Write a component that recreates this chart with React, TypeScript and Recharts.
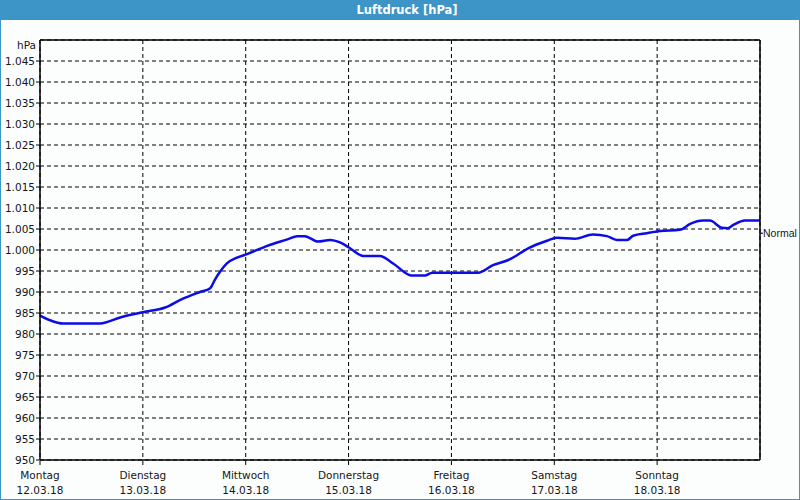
import React from 'react'
import { LineChart, Line, XAxis, YAxis, CartesianGrid, ReferenceLine } from 'recharts'

// hours since Monday 00:00
const hours = [
  0, 2.3, 5.4, 14, 18.9, 24, 29.2, 33.1, 37.3, 39.7, 40.8, 42, 43.6, 46, 48.3, 53, 57.9, 60, 61.8,
  64.9, 67.7, 70, 72.1, 75.4, 79.3, 82.4, 86.3, 87, 89.8, 91.5, 102.2, 105.7, 109.7, 113.9, 118.3,
  120.6, 124.8, 129, 132.3, 134.6, 137, 138.4, 141.6, 144.7, 149.3, 151.7, 154.7, 156.3, 159.1,
  160.5, 161.7, 164.5, 167.3, 168,
]
const pressure = [
  984.4, 983.3, 982.5, 982.5, 984.0, 985.2, 986.3, 988.3, 990.0, 990.9, 992.9, 994.8, 996.8, 998.2,
  999.0, 1001.0, 1002.6, 1003.3, 1003.3, 1002.0, 1002.4, 1001.8, 1000.6, 998.6, 998.6, 996.8, 994.0,
  993.9, 993.9, 994.6, 994.6, 996.4, 997.8, 1000.4, 1002.2, 1002.9, 1002.7, 1003.7, 1003.3, 1002.4,
  1002.4, 1003.4, 1004.0, 1004.5, 1004.8, 1006.2, 1007.0, 1007.0, 1005.3, 1005.2, 1005.9, 1007.0,
  1007.0, 1007.0,
]

const dayNames = ['Montag', 'Dienstag', 'Mittwoch', 'Donnerstag', 'Freitag', 'Samstag', 'Sonntag']
const dayDates = ['12.03.18', '13.03.18', '14.03.18', '15.03.18', '16.03.18', '17.03.18', '18.03.18']
const dayTicks = [0, 24, 48, 72, 96, 120, 144]

const yTicks = [950, 955, 960, 965, 970, 975, 980, 985, 990, 995, 1000, 1005, 1010, 1015, 1020, 1025, 1030, 1035, 1040, 1045]
const normalValue = 1004

const data = hours.map((h, i) => ({ h, p: pressure[i] }))

const font = '"DejaVu Sans", Verdana, sans-serif'
const textColor = '#151520'

const fmtHpa = (v: number) => (v >= 1000 ? `${Math.floor(v / 1000)}.${String(v % 1000).padStart(3, '0')}` : String(v))

const DayTick = (props: any) => {
  const { x, y, payload } = props
  const i = dayTicks.indexOf(payload.value)
  if (i < 0) return null
  return (
    <g>
      <text x={x} y={y + 12} textAnchor="middle" fontSize={10.5} fontFamily={font} fill={textColor}>
        {dayNames[i]}
      </text>
      <text x={x} y={y + 27} textAnchor="middle" fontSize={10.5} fontFamily={font} fill={textColor}>
        {dayDates[i]}
      </text>
    </g>
  )
}

// small tick + "Normal" text right of the plot
const NormalLabel = (props: any) => {
  const { viewBox } = props
  if (!viewBox) return null
  const xr = viewBox.x + viewBox.width
  const y = viewBox.y
  return (
    <g>
      <line x1={xr} x2={xr + 3} y1={y} y2={y} stroke="#000" />
      <text x={xr + 3} y={y} dy="0.35em" fontSize={10.5} fontFamily='"Liberation Sans", Arial, sans-serif' fill={textColor}>
        Normal
      </text>
    </g>
  )
}

const App: React.FC = () => {
  return (
    <div style={{ position: 'relative', width: 800, height: 500, background: '#fcfefd', fontFamily: font }}>
      <style>{'body { margin: 0; }'}</style>
      <div
        style={{
          position: 'absolute', left: 0, top: 0, width: 800, height: 500,
          boxSizing: 'border-box', border: '1px solid #3d94c6', pointerEvents: 'none',
        }}
      />
      <div
        style={{
          position: 'absolute', left: 0, top: 0, width: 800, height: 20, background: '#3d94c6',
          color: '#fff', fontWeight: 'bold', fontSize: 11.5, lineHeight: '20px', textAlign: 'center',
          paddingLeft: 14, boxSizing: 'border-box',
        }}
      >
        Luftdruck [hPa]
      </div>
      <div style={{ position: 'absolute', left: 0, top: 39, width: 36, textAlign: 'right', fontSize: 10.5, color: textColor }}>
        hPa
      </div>
      <div style={{ position: 'absolute', left: 0, top: 0 }}>
        <LineChart width={800} height={500} data={data} margin={{ top: 40, right: 0, bottom: 0, left: 0 }}>
          <CartesianGrid yAxisId="left" stroke="#000" strokeDasharray="4 3" />
          <XAxis
            dataKey="h"
            type="number"
            domain={[0, 168]}
            ticks={dayTicks}
            height={40}
            tick={<DayTick />}
            tickSize={5}
            tickLine={{ stroke: '#000', strokeDasharray: '4 3' }}
            axisLine={{ stroke: '#000', strokeWidth: 1.5 }}
            allowDataOverflow
          />
          <YAxis
            yAxisId="left"
            domain={[950, 1050]}
            ticks={yTicks}
            width={40}
            tickSize={4}
            tickMargin={1}
            tickFormatter={fmtHpa}
            tick={{ fontSize: 10.5, fill: textColor, fontFamily: font }}
            tickLine={{ stroke: '#000' }}
            axisLine={{ stroke: '#000', strokeWidth: 1.5 }}
            interval={0}
          />
          <YAxis
            yAxisId="right"
            orientation="right"
            domain={[950, 1050]}
            width={40}
            tick={false}
            tickLine={false}
            axisLine={{ stroke: '#000', strokeWidth: 1.5 }}
          />
          <ReferenceLine yAxisId="left" y={1050} stroke="#000" strokeWidth={1.5} />
          <ReferenceLine yAxisId="left" y={normalValue} stroke="none" label={<NormalLabel />} />
          <Line
            yAxisId="left"
            type="monotone"
            dataKey="p"
            stroke="#0c0ce6"
            strokeWidth={2.5}
            dot={false}
            isAnimationActive={false}
          />
        </LineChart>
      </div>
    </div>
  )
}

export default App
